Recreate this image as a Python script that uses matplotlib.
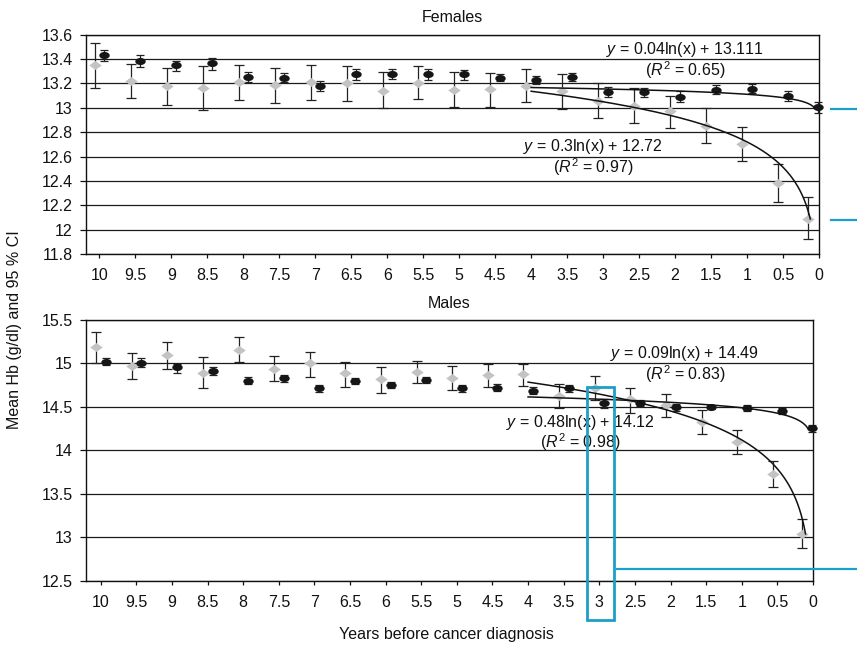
import numpy as np
import matplotlib
matplotlib.use("Agg")
import matplotlib.pyplot as plt
from matplotlib.patches import Rectangle
from matplotlib.lines import Line2D

plt.rcParams['font.family'] = ['Liberation Sans', 'DejaVu Sans']
plt.rcParams['mathtext.fontset'] = 'custom'
plt.rcParams['mathtext.rm'] = 'Liberation Sans'
plt.rcParams['mathtext.it'] = 'Liberation Sans:italic'

# ---------------- data ----------------
years = [10, 9.5, 9, 8.5, 8, 7.5, 7, 6.5, 6, 5.5, 5, 4.5, 4, 3.5, 3, 2.5, 2, 1.5, 1, 0.5, 0]
year_labels = ['10', '9.5', '9', '8.5', '8', '7.5', '7', '6.5', '6', '5.5', '5',
               '4.5', '4', '3.5', '3', '2.5', '2', '1.5', '1', '0.5', '0']

# Females - grey diamonds (cancer cases)
fem_d_mean = [13.35, 13.22, 13.175, 13.16, 13.215, 13.19, 13.21, 13.20, 13.14, 13.205, 13.15,
              13.153, 13.183, 13.14, 13.056, 13.018, 12.97, 12.853, 12.70, 12.382, 12.087]
fem_d_lo = [13.16, 13.08, 13.02, 12.98, 13.06, 13.04, 13.06, 13.056, 13.0, 13.07, 13.007,
            13.007, 13.051, 12.988, 12.913, 12.875, 12.831, 12.707, 12.561, 12.225, 11.922]
fem_d_hi = [13.53, 13.36, 13.33, 13.34, 13.35, 13.33, 13.35, 13.345, 13.295, 13.345, 13.29,
            13.288, 13.321, 13.277, 13.202, 13.161, 13.098, 12.996, 12.842, 12.542, 12.267]
# Females - black circles
fem_c_mean = [13.436, 13.387, 13.354, 13.365, 13.252, 13.244, 13.178, 13.277, 13.279, 13.277, 13.277,
              13.244, 13.225, 13.25, 13.128, 13.128, 13.087, 13.147, 13.155, 13.093, 13.004]
fem_c_lo = [13.382, 13.335, 13.299, 13.31, 13.208, 13.208, 13.134, 13.225, 13.236, 13.225, 13.23,
            13.217, 13.194, 13.221, 13.087, 13.087, 13.051, 13.112, 13.12, 13.056, 12.955]
fem_c_hi = [13.478, 13.431, 13.387, 13.409, 13.291, 13.285, 13.221, 13.316, 13.318, 13.316, 13.312,
            13.279, 13.263, 13.283, 13.167, 13.161, 13.134, 13.188, 13.194, 13.134, 13.046]

# Males - grey diamonds
male_d_mean = [15.19, 14.97, 15.095, 14.89, 15.16, 14.94, 15.0, 14.885, 14.816, 14.904, 14.835,
               14.866, 14.877, 14.624, 14.713, 14.586, 14.521, 14.329, 14.099, 13.728, 13.039]
male_d_lo = [15.0, 14.816, 14.934, 14.72, 15.011, 14.797, 14.846, 14.731, 14.662, 14.77, 14.70,
             14.724, 14.739, 14.483, 14.578, 14.432, 14.387, 14.184, 13.958, 13.575, 12.874]
male_d_hi = [15.363, 15.115, 15.248, 15.069, 15.306, 15.087, 15.133, 15.019, 14.961, 15.03, 14.975,
             14.992, 14.992, 14.762, 14.854, 14.72, 14.644, 14.463, 14.234, 13.881, 13.211]
# Males - black circles
male_c_mean = [15.019, 15.007, 14.954, 14.912, 14.797, 14.828, 14.713, 14.8, 14.751, 14.808, 14.713,
               14.72, 14.685, 14.713, 14.54, 14.547, 14.494, 14.494, 14.49, 14.456, 14.253]
male_c_lo = [14.98, 14.954, 14.892, 14.862, 14.762, 14.789, 14.674, 14.762, 14.713, 14.77, 14.674,
             14.682, 14.647, 14.674, 14.483, 14.513, 14.456, 14.471, 14.456, 14.417, 14.207]
male_c_hi = [15.057, 15.06, 14.988, 14.954, 14.839, 14.866, 14.751, 14.835, 14.789, 14.846, 14.751,
             14.759, 14.724, 14.751, 14.586, 14.578, 14.529, 14.521, 14.521, 14.49, 14.291]

# log trend-line fits  y = a*ln(x) + b
fem_c_fit = (0.04, 13.111, '0.65')
fem_d_fit = (0.3, 12.72, '0.97')
male_c_fit = (0.09, 14.49, '0.83')
male_d_fit = (0.48, 14.12, '0.98')

# ---------------- drawing ----------------
W, H = 857, 646
fig = plt.figure(figsize=(W / 100, H / 100), dpi=100)

def fx(px):
    return px / W

def fy(py):
    return 1 - py / H

ax1 = fig.add_axes([fx(86), fy(254), fx(819 - 86), (254 - 34.7) / H])
ax2 = fig.add_axes([fx(86), fy(580.7), fx(813 - 86), (580.7 - 320) / H])

ellipse = np.array([[np.cos(t), 0.68 * np.sin(t)] for t in np.linspace(0, 2 * np.pi, 40)])
diamond = np.array([[-1, 0], [0, 0.72], [1, 0], [0, -0.72], [-1, 0]])

yrs = np.array(years, dtype=float)
# axis is reversed: larger x lies further left
xd = np.where(yrs == 0, 0.15, yrs + 0.065)
xc = np.where(yrs == 0, 0.015, yrs - 0.07)

GREY = '#c3c3c3'
DARK = '#161616'
BLUE = '#1ba0c8'
FS = 11.5
EQ_FS = 11.5


def panel(ax, d_mean, d_lo, d_hi, c_mean, c_lo, c_hi, d_fit, c_fit, ylim, yticks, yticklabels,
          xleft, title, c_txt, d_txt):
    d_mean = np.array(d_mean); c_mean = np.array(c_mean)
    for t in yticks:
        ax.axhline(t, color='#1a1a1a', lw=0.9, zorder=1)
    ax.errorbar(xd, d_mean, yerr=[d_mean - np.array(d_lo), np.array(d_hi) - d_mean],
                fmt='none', ecolor='#222222', elinewidth=0.9, capsize=3.6, capthick=0.9,
                zorder=3, clip_on=False)
    ax.plot(xd, d_mean, linestyle='none', marker=diamond, markersize=9, color=GREY,
            markeredgewidth=0, zorder=4, clip_on=False)
    ax.errorbar(xc, c_mean, yerr=[c_mean - np.array(c_lo), np.array(c_hi) - c_mean],
                fmt='none', ecolor='#222222', elinewidth=0.9, capsize=3.2, capthick=0.9,
                zorder=3, clip_on=False)
    ax.plot(xc, c_mean, linestyle='none', marker=ellipse, markersize=7.5, color=DARK,
            markeredgewidth=0, zorder=5, clip_on=False)
    # trend lines
    for (a, b, _), last in ((c_fit, c_mean[-1]), (d_fit, d_mean[-1])):
        x_end = np.exp((last - b) / a)
        xs = np.geomspace(4, x_end, 300)
        ax.plot(xs, a * np.log(xs) + b, color='#111111', lw=1.1, zorder=6)
    ax.set_xlim(xleft, 0)
    ax.set_ylim(*ylim)
    ax.set_yticks(yticks)
    ax.set_yticklabels(yticklabels)
    ax.set_xticks(years)
    ax.set_xticklabels(year_labels)
    for s in ax.spines.values():
        s.set_linewidth(1.0)
        s.set_color('#111111')
    ax.tick_params(axis='y', direction='out', length=4.5, width=0.9, pad=5, labelsize=FS,
                   colors='#111111')
    ax.tick_params(axis='x', direction='out', length=3, width=0.9, pad=7, labelsize=FS,
                   colors='#111111')
    ax.set_title(title, fontsize=FS, pad=9, color='#111111')
    for fit, pos in ((c_fit, c_txt), (d_fit, d_txt)):
        a, b, r = fit
        ax.text(pos[0], pos[1], rf'$y$ = {a}ln(x) + {b}', ha='center', va='center',
                fontsize=EQ_FS, color='#111111', zorder=7)
        ax.text(pos[0], pos[2], rf'($R^2$ = {r})', ha='center', va='center',
                fontsize=EQ_FS, color='#111111', zorder=7)


panel(ax1, fem_d_mean, fem_d_lo, fem_d_hi, fem_c_mean, fem_c_lo, fem_c_hi, fem_d_fit, fem_c_fit,
      (11.8, 13.6), [11.8, 12.0, 12.2, 12.4, 12.6, 12.8, 13.0, 13.2, 13.4, 13.6],
      ['11.8', '12', '12.2', '12.4', '12.6', '12.8', '13', '13.2', '13.4', '13.6'],
      10.185, 'Females', (1.86, 13.482, 13.31), (3.14, 12.685, 12.515))

panel(ax2, male_d_mean, male_d_lo, male_d_hi, male_c_mean, male_c_lo, male_c_hi, male_d_fit,
      male_c_fit, (12.5, 15.5), [12.5, 13.0, 13.5, 14.0, 14.5, 15.0, 15.5],
      ['12.5', '13', '13.5', '14', '14.5', '15', '15.5'],
      10.206, 'Males', (1.80, 15.115, 14.877), (3.27, 14.325, 14.093))

fig.text(fx(446), fy(635), 'Years before cancer diagnosis', ha='center', va='center',
         fontsize=FS, color='#111111')
fig.text(fx(15), fy(330), 'Mean Hb (g/dl) and 95 % CI', ha='center', va='center',
         rotation=90, fontsize=FS, color='#111111')

# blue highlight annotations
for py in (109, 220):
    fig.add_artist(Line2D([fx(831), fx(857)], [fy(py), fy(py)], color=BLUE, lw=1.6,
                          transform=fig.transFigure))
fig.add_artist(Line2D([fx(617), fx(857)], [fy(569.3), fy(569.3)], color=BLUE, lw=1.6,
                      transform=fig.transFigure))
fig.add_artist(Rectangle((fx(587), fy(619.5)), fx(614 - 587), (619.5 - 387.3) / H,
                         fill=False, edgecolor=BLUE, lw=2.0, transform=fig.transFigure,
                         zorder=10))

fig.savefig('out.png', dpi=100)
